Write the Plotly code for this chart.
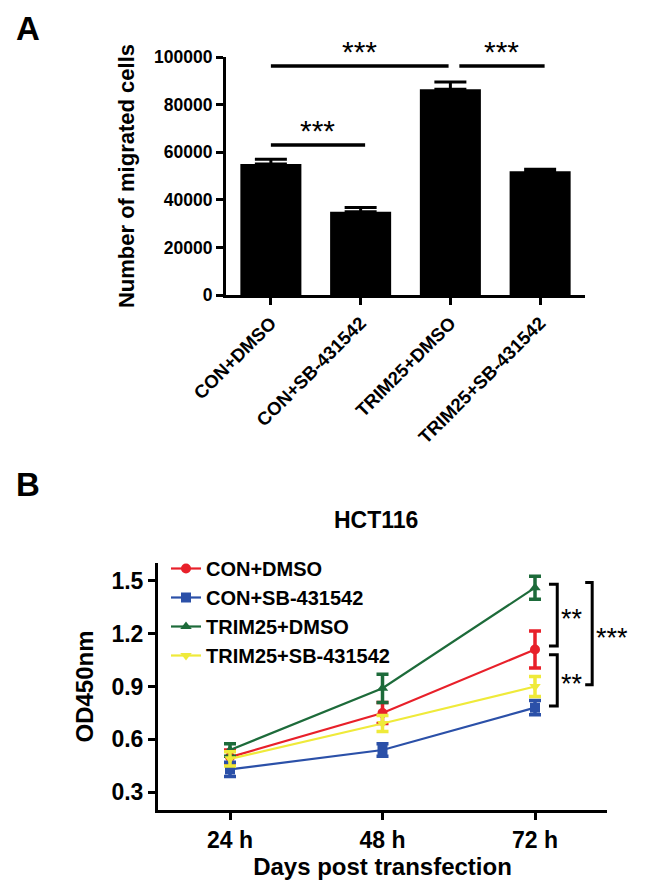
import plotly.graph_objects as go

# ---------------- Panel A data ----------------
groups_a = ["CON+DMSO", "CON+SB-431542", "TRIM25+DMSO", "TRIM25+SB-431542"]
means_a = [55000, 35000, 86500, 52000]
sem_a = [2000, 1800, 3000, 800]
a_ticks = [0, 20000, 40000, 60000, 80000, 100000]

# significance bars in panel A: (x start, x end, y level, label)
sig_a_x0 = [0.0, 0.0, 2.1]
sig_a_x1 = [1.05, 1.98, 3.05]
sig_a_y = [63000, 96200, 96200]
sig_a_label = ["***", "***", "***"]

# ---------------- Panel B data ----------------
times_b = [24, 48, 72]
time_labels_b = ["24 h", "48 h", "72 h"]
series_names = ["CON+DMSO", "CON+SB-431542", "TRIM25+DMSO", "TRIM25+SB-431542"]
con_dmso = [0.50, 0.75, 1.11]
con_dmso_err = [0.04, 0.06, 0.105]
con_sb = [0.43, 0.54, 0.78]
con_sb_err = [0.04, 0.035, 0.04]
trim_dmso = [0.54, 0.89, 1.46]
trim_dmso_err = [0.035, 0.08, 0.065]
trim_sb = [0.49, 0.69, 0.90]
trim_sb_err = [0.04, 0.045, 0.057]
b_ticks = [0.3, 0.6, 0.9, 1.2, 1.5]

# brackets at 72 h
br_top = [1.48, 1.08, 1.49]
br_bot = [1.13, 0.79, 0.91]
br_label = ["**", "**", "***"]
br_outer = [False, False, True]

FONT = "Liberation Sans, Arial, sans-serif"
colors = ["#E8202A", "#2B50A8", "#1D6B3A", "#EFEA3A"]
symbols = ["circle", "square", "triangle-up", "triangle-down"]

fig = go.Figure()

# Bars
fig.add_trace(go.Bar(
    x=list(range(len(groups_a))), y=means_a, width=0.68,
    marker=dict(color="black", line=dict(width=0)),
    error_y=dict(type="data", array=sem_a, arrayminus=[0] * len(sem_a),
                 symmetric=False, color="black", thickness=3, width=16),
    xaxis="x", yaxis="y", showlegend=False,
))

# Lines
all_y = [con_dmso, con_sb, trim_dmso, trim_sb]
all_e = [con_dmso_err, con_sb_err, trim_dmso_err, trim_sb_err]
for i, name in enumerate(series_names):
    fig.add_trace(go.Scatter(
        x=times_b, y=all_y[i], name=name, mode="lines+markers",
        line=dict(color=colors[i], width=2.2),
        marker=dict(symbol=symbols[i], size=10, color=colors[i]),
        error_y=dict(type="data", array=all_e[i], color=colors[i],
                     thickness=3.5, width=6),
        xaxis="x2", yaxis="y2",
    ))

# Significance lines panel A
for x0, x1, yv, lab in zip(sig_a_x0, sig_a_x1, sig_a_y, sig_a_label):
    fig.add_shape(type="line", xref="x", yref="y", x0=x0, x1=x1, y0=yv, y1=yv,
                  line=dict(color="black", width=3.5))
    fig.add_annotation(xref="x", yref="y", x=(x0 + x1) / 2, y=yv,
                       text=lab, showarrow=False, yanchor="bottom", yshift=-4,
                       font=dict(size=30, color="black", family=FONT, weight="normal"))

# Brackets panel B
for top, bot, lab, outer in zip(br_top, br_bot, br_label, br_outer):
    xv = 81.0 if outer else 75.5
    xt = 79.9 if outer else 74.2
    fig.add_shape(type="path", xref="x2", yref="y2",
                  path=f"M {xt},{top} L {xv},{top} L {xv},{bot} L {xt},{bot}",
                  line=dict(color="black", width=3))
    fig.add_annotation(xref="x2", yref="y2", x=xv, y=(top + bot) / 2,
                       text=lab, showarrow=False, xanchor="left", xshift=2, yshift=-4,
                       font=dict(size=27, color="black", family=FONT, weight="normal"))

axis_common = dict(showline=True, linecolor="black", linewidth=3, ticks="outside",
                   ticklen=7, tickwidth=3, tickcolor="black", showgrid=False,
                   zeroline=False, mirror=False, automargin=False)

fig.update_layout(
    template="none",
    width=652, height=896,
    margin=dict(l=0, r=0, t=0, b=0, autoexpand=False),
    paper_bgcolor="white", plot_bgcolor="white",
    font=dict(family=FONT, color="black", weight="bold"),
    xaxis=dict(domain=[226 / 652, 585 / 652], range=[-0.5, 3.5],
               tickvals=list(range(len(groups_a))), ticktext=groups_a,
               tickangle=-45, tickfont=dict(size=18.5, weight="bold"),
               anchor="y", **axis_common),
    yaxis=dict(domain=[1 - 295 / 896, 1 - 57 / 896], range=[0, 100000],
               tickvals=a_ticks, tickformat="d", tickfont=dict(size=17.5, weight="bold"),
               title=dict(text="Number of migrated cells", standoff=14,
                          font=dict(size=22, weight="bold")),
               anchor="x", **axis_common),
    xaxis2=dict(domain=[158 / 652, 607 / 652], range=[12.67, 83.33],
                tickvals=times_b, ticktext=time_labels_b,
                tickfont=dict(size=23, weight="bold"),
                title=dict(text="Days post transfection", standoff=6,
                           font=dict(size=24, weight="bold")),
                anchor="y2", **axis_common),
    yaxis2=dict(domain=[1 - 810 / 896, 1 - 563 / 896], range=[0.2, 1.6],
                tickvals=b_ticks, tickformat=".1f", tickfont=dict(size=23, weight="bold"),
                title=dict(text="OD450nm", standoff=12, font=dict(size=24, weight="bold")),
                anchor="x2", **axis_common),
    legend=dict(x=166 / 652, y=1 - 549 / 896, xanchor="left", yanchor="top",
                bgcolor="rgba(0,0,0,0)", font=dict(size=20, weight="bold"),
                itemwidth=30, tracegroupgap=0),
    annotations=list(fig.layout.annotations) + [
        dict(text="A", x=14 / 652, y=1 - 28 / 896, xref="paper", yref="paper",
             showarrow=False, xanchor="left", yanchor="middle",
             font=dict(size=33, weight="bold")),
        dict(text="B", x=14 / 652, y=1 - 484 / 896, xref="paper", yref="paper",
             showarrow=False, xanchor="left", yanchor="middle",
             font=dict(size=33, weight="bold")),
        dict(text="HCT116", x=376 / 652, y=1 - 520 / 896, xref="paper", yref="paper",
             showarrow=False, xanchor="center", yanchor="middle",
             font=dict(size=23, weight="bold")),
    ],
)

fig.write_html("out.html", config={"displayModeBar": False},
               post_script="document.body.style.margin='0px';document.body.style.padding='0px';")
